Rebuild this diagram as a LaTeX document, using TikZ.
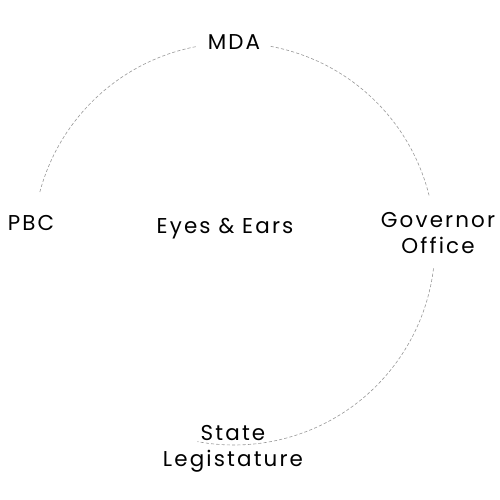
\documentclass[tikz,border=0pt]{standalone}
\usepackage{fontspec}
\setmainfont{Poppins}[LetterSpace=10]
\usetikzlibrary{positioning, calc}

\begin{document}
\begin{tikzpicture}[
    party/.style={align=center, inner sep=0pt, font=\fontsize{12.2}{14.8}\selectfont},
    link/.style={gray!80, line width=0.35pt, dash pattern=on 1.8pt off 1.2pt}
]
\useasboundingbox (0,0) rectangle (10,10);

% Centre of the ring
\coordinate (hub) at (4.68,5.12);

% Parties
\node[party] (mda) at (4.68,9.16) {MDA};
\node[party] (pbc) at (0.62,5.54) {PBC};
\node[party] (gov) at (8.76,5.34) {Governor\\Office};
\node[party] (state) at (4.66,1.02) {State\\Legistature};
\node[party] (eyes) at (4.50,5.42) {Eyes \& Ears};

% Ring links
\draw[link] ($(hub)+(165:4.02)$) arc[start angle=165, end angle=100.5, radius=4.02];
\draw[link] ($(hub)+(79.5:4.02)$) arc[start angle=79.5, end angle=14, radius=4.02];
\draw[link] ($(hub)+(-7:4.02)$) arc[start angle=-7, end angle=-100.5, radius=4.02];

\end{tikzpicture}
\end{document}
